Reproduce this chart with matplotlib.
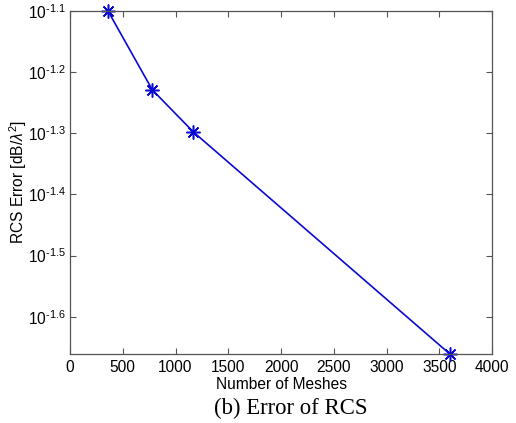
import numpy as np
import matplotlib
matplotlib.use('Agg')
import matplotlib.pyplot as plt

plt.rcParams['font.family'] = ['Liberation Sans', 'DejaVu Sans']
plt.rcParams['mathtext.fontset'] = 'custom'
plt.rcParams['mathtext.rm'] = 'Liberation Sans'
plt.rcParams['mathtext.it'] = 'Liberation Sans:italic'

# data
meshes = [360, 780, 1170, 3600]
log_err = [-1.1, -1.229, -1.298, -1.661]
err = [10 ** v for v in log_err]

ytick_exp = [-1.6, -1.5, -1.4, -1.3, -1.2, -1.1]
xticks = [0, 500, 1000, 1500, 2000, 2500, 3000, 3500, 4000]

fig = plt.figure(figsize=(5.16, 4.23), dpi=100)
ax = fig.add_axes([0.1357, 0.163, 0.818, 0.811])

# matlab style asterisk marker
ax.plot(meshes, err, color='#0a0ad2', linewidth=1.2, marker=(8, 2, 0),
        markersize=10, markeredgewidth=1.1, clip_on=False)

ax.set_yscale('log')
ax.set_xlim(0, 4000)
ax.set_ylim(10 ** -1.661, 10 ** -1.1)
ax.set_xticks(xticks)
ax.set_xticklabels([str(t) for t in xticks])
ax.set_yticks([10 ** e for e in ytick_exp])
# hyphen instead of the wide math minus, like the matlab labels
ax.set_yticklabels([r'$10^{\text{%s}}$' % e for e in ytick_exp])
ax.yaxis.set_minor_locator(matplotlib.ticker.NullLocator())

ax.tick_params(direction='in', top=True, right=True, length=4, width=0.8,
               labelsize=11.2, colors='#555555', labelcolor='black', pad=4)
ax.tick_params(axis='y', pad=3)
for s in ax.spines.values():
    s.set_color('#555555')
    s.set_linewidth(0.9)

ax.set_xlabel('Number of Meshes', fontsize=11.2, labelpad=2)
ax.set_ylabel(r'RCS Error [dB/$\lambda^{2}$]', fontsize=11.2)
ax.yaxis.set_label_coords(-0.097, 0.5)

fig.text(0.564, 0.022, '(b) Error of RCS', family=['Liberation Serif', 'DejaVu Serif'],
         fontsize=16.4, ha='center', va='baseline')

fig.savefig('out.png', dpi=100)
